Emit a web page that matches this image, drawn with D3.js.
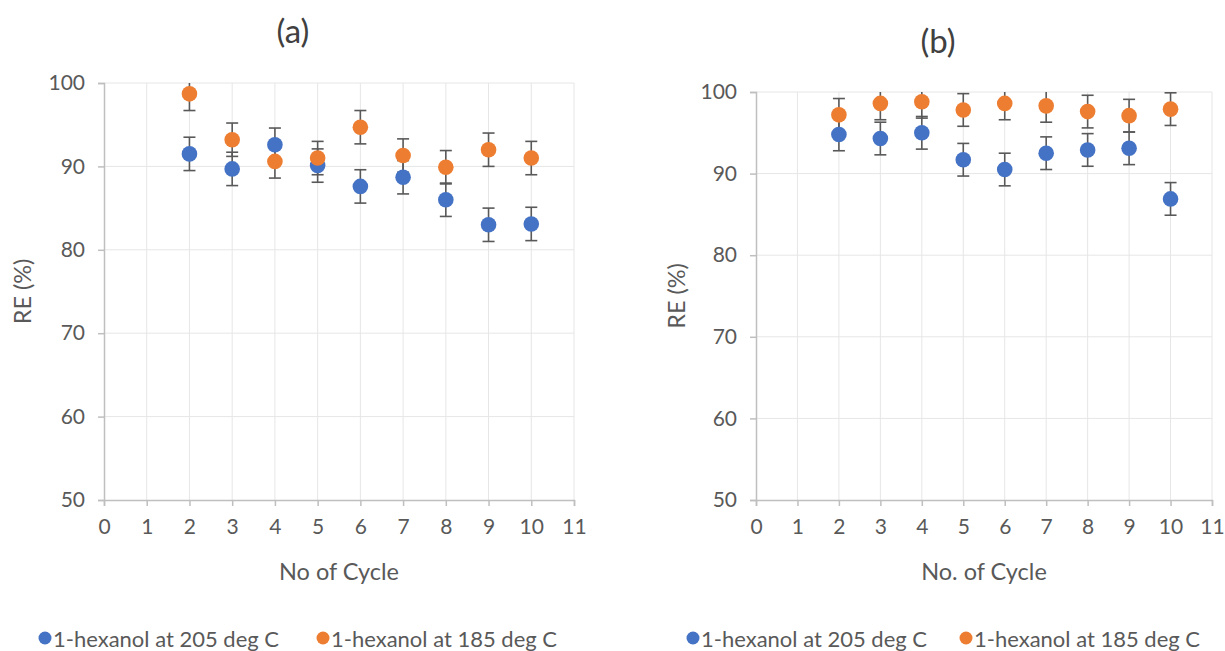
<!DOCTYPE html>
<html>
<head>
<meta charset="utf-8">
<script src="https://cdn.jsdelivr.net/npm/d3@7"></script>
<style>
  body { margin: 0; background: #fff; }
  svg { font-family: "Lato", "Open Sans", sans-serif; }
</style>
</head>
<body>
<div id="chart"></div>
<script>
// Data
const cycles = [2, 3, 4, 5, 6, 7, 8, 9, 10];
const aHex205 = [91.5, 89.7, 92.6, 90.1, 87.6, 88.7, 86.0, 83.0, 83.1];
const aHex185 = [98.7, 93.2, 90.6, 91.0, 94.7, 91.3, 89.9, 92.0, 91.0];
const bHex205 = [94.8, 94.3, 95.0, 91.7, 90.5, 92.5, 92.9, 93.1, 86.9];
const bHex185 = [97.2, 98.6, 98.8, 97.8, 98.6, 98.3, 97.6, 97.1, 97.9];
const errorBar = 2;
const seriesNames = ["1-hexanol at 205 deg C", "1-hexanol at 185 deg C"];
const xTicks = [0, 1, 2, 3, 4, 5, 6, 7, 8, 9, 10, 11];
const yTicks = [50, 60, 70, 80, 90, 100];

const colors = ["#4472C4", "#ED7D31"];
const textColor = "#595959";

const svg = d3.select("#chart").append("svg")
  .attr("width", 1225).attr("height", 651);

const panels = [
  { title: "(a)", titleX: 293, titleY: 30, xLabel: "No of Cycle",
    left: 104, right: 574, top: 83, bottom: 500, yLabelX: 22,
    series: [aHex205, aHex185], legendX: [45, 323] },
  { title: "(b)", titleX: 938, titleY: 40, xLabel: "No. of Cycle",
    left: 756, right: 1212, top: 92, bottom: 500, yLabelX: 676,
    series: [bHex205, bHex185], legendX: [693, 966] }
];

panels.forEach((p) => {
  const g = svg.append("g");
  const x = d3.scaleLinear().domain([0, 11]).range([p.left, p.right]);
  const y = d3.scaleLinear().domain([50, 100]).range([p.bottom, p.top]);

  // gridlines
  g.append("g").selectAll("line").data(yTicks.filter((d) => d > 50)).join("line")
    .attr("x1", p.left).attr("x2", p.right)
    .attr("y1", (d) => y(d)).attr("y2", (d) => y(d))
    .attr("stroke", "#e6e6e6").attr("stroke-width", 1);
  g.append("g").selectAll("line").data(xTicks.filter((d) => d > 0)).join("line")
    .attr("x1", (d) => x(d)).attr("x2", (d) => x(d))
    .attr("y1", p.top).attr("y2", p.bottom)
    .attr("stroke", "#e6e6e6").attr("stroke-width", 1);

  // axes
  const xAxis = g.append("g")
    .attr("transform", `translate(0,${p.bottom})`)
    .call(d3.axisBottom(x).tickValues(xTicks).tickSize(6).tickPadding(11));
  const yAxis = g.append("g")
    .attr("transform", `translate(${p.left},0)`)
    .call(d3.axisLeft(y).tickValues(yTicks).tickSize(6).tickPadding(13));
  [xAxis, yAxis].forEach((ax) => {
    ax.select(".domain").attr("stroke", "#bfbfbf").attr("stroke-width", 1.5);
    ax.selectAll(".tick line").attr("stroke", "#bfbfbf").attr("stroke-width", 1.5);
    ax.selectAll(".tick text").attr("fill", textColor).style("font-size", "21px")
      .style("font-family", "Lato, sans-serif");
  });
  xAxis.selectAll(".tick text").attr("dy", "0.8em");

  // titles
  g.append("text").attr("x", p.titleX).attr("y", p.titleY)
    .attr("text-anchor", "middle").attr("dominant-baseline", "central")
    .attr("fill", "#404040").style("font-size", "33px").text(p.title);
  g.append("text").attr("x", (p.left + p.right) / 2).attr("y", 571)
    .attr("text-anchor", "middle").attr("dominant-baseline", "central")
    .attr("fill", textColor).style("font-size", "23.5px").text(p.xLabel);
  g.append("text")
    .attr("transform", `translate(${p.yLabelX},${(p.top + p.bottom) / 2}) rotate(-90)`)
    .attr("text-anchor", "middle").attr("dominant-baseline", "central")
    .attr("fill", textColor).style("font-size", "23.5px").text("RE (%)");

  // error bars (clipped at the axis maximum)
  const eb = g.append("g");
  p.series.forEach((vals) => {
    vals.forEach((v, i) => {
      const cx = x(cycles[i]);
      const hi = Math.min(v + errorBar, 100);
      const lo = Math.max(v - errorBar, 50);
      eb.append("line").attr("x1", cx).attr("x2", cx)
        .attr("y1", y(hi)).attr("y2", y(lo))
        .attr("stroke", "#595959").attr("stroke-width", 1.6);
      [[v + errorBar, hi], [v - errorBar, lo]].forEach(([raw, c]) => {
        if (raw === c) {
          eb.append("line").attr("x1", cx - 6).attr("x2", cx + 6)
            .attr("y1", y(c)).attr("y2", y(c))
            .attr("stroke", "#595959").attr("stroke-width", 1.6);
        }
      });
    });
  });

  // markers
  p.series.forEach((vals, s) => {
    g.append("g").selectAll("circle").data(vals).join("circle")
      .attr("cx", (d, i) => x(cycles[i]))
      .attr("cy", (d) => y(d))
      .attr("r", 7.8)
      .attr("fill", colors[s]);
  });

  // legend
  seriesNames.forEach((name, s) => {
    const lg = g.append("g").attr("transform", `translate(${p.legendX[s]},638)`);
    lg.append("circle").attr("r", 6.5).attr("fill", colors[s]);
    lg.append("text").attr("x", 8).attr("dominant-baseline", "central")
      .attr("fill", textColor).style("font-size", "22px").text(name);
  });
});
</script>
</body>
</html>
